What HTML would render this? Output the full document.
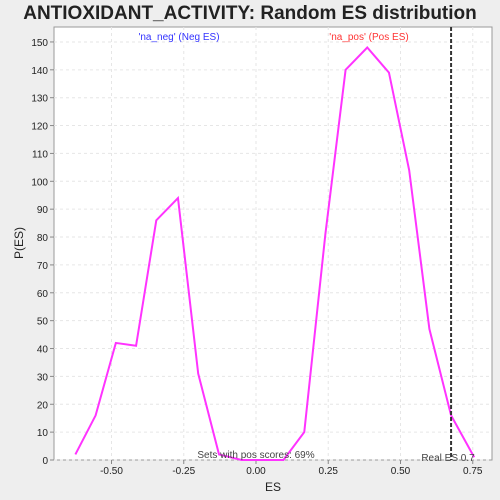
<!DOCTYPE html>
<html><head><meta charset="utf-8"><style>
body{margin:0;background:#eeeeee;}
svg{display:block;font-family:"Liberation Sans","DejaVu Sans",sans-serif;}
</style></head><body>
<svg id="c" width="500" height="500">
<rect x="0" y="0" width="500" height="500" fill="#eeeeee"/>
<text x="250" y="19" text-anchor="middle" font-size="19" font-weight="bold" fill="#222">ANTIOXIDANT_ACTIVITY: Random ES distribution</text>
<rect x="54" y="27" width="438" height="433" fill="#fff" stroke="#999"/>
<g id="grid"></g><g id="axes"></g><g id="series"></g>
<text x="179" y="40" text-anchor="middle" font-size="10" fill="#3333ff">'na_neg' (Neg ES)</text>
<text x="369" y="40" text-anchor="middle" font-size="10" fill="#ff3333">'na_pos' (Pos ES)</text>
<text x="256" y="458" text-anchor="middle" font-size="10" fill="#444">Sets with pos scores: 69%</text>
<text x="448" y="461" text-anchor="middle" font-size="10" fill="#444">Real ES 0.7</text>
<text x="273" y="491" text-anchor="middle" font-size="12" fill="#222">ES</text>
<text x="23" y="243" text-anchor="middle" font-size="12" fill="#222" transform="rotate(-90 23 243)">P(ES)</text>
</svg>
<script>
const esValues=[-0.625,-0.555,-0.485,-0.415,-0.345,-0.27,-0.2,-0.128,-0.05,0.02,0.095,0.167,0.24,0.31,0.385,0.46,0.53,0.6,0.675,0.755];
const probValues=[2,16,42,41,86,94,31,2,0,0,0,10,81,140,148,139,104,47,16,1];
const xTicks=[-0.5,-0.25,0,0.25,0.5,0.75];
const xTickLabels=["-0.50","-0.25","0.00","0.25","0.50","0.75"];
const yTicks=[0,10,20,30,40,50,60,70,80,90,100,110,120,130,140,150];
const realES=0.675;
const NS="http://www.w3.org/2000/svg";
const X=v=>256+v*289, Y=v=>460-v*2.787;
function mk(t,a,p){const e=document.createElementNS(NS,t);for(const k in a)e.setAttribute(k,a[k]);p.appendChild(e);return e;}
const g=document.getElementById('grid'),ax=document.getElementById('axes'),s=document.getElementById('series');
xTicks.forEach((v,i)=>{
 const l=mk('line',{x1:X(v),x2:X(v),y1:27,y2:460,stroke:'#e6e6e6','stroke-dasharray':'3,3'},g);
 
 mk('line',{x1:X(v),x2:X(v),y1:460,y2:464,stroke:'#888'},ax);
 const t=mk('text',{x:X(v),y:474,'text-anchor':'middle','font-size':'10',fill:'#222'},ax);t.textContent=xTickLabels[i];
 
});
yTicks.forEach(v=>{
 const l=mk('line',{x1:54,x2:492,y1:Y(v),y2:Y(v),stroke:'#e6e6e6','stroke-dasharray':'3,3'},g);
 
 mk('line',{x1:50,x2:54,y1:Y(v),y2:Y(v),stroke:'#888'},ax);
 const t=mk('text',{x:48,y:Y(v)+4,'text-anchor':'end','font-size':'10',fill:'#222'},ax);t.textContent=v;
 
});
const line=mk('polyline',{points:esValues.map((v,i)=>X(v)+','+Y(probValues[i])).join(' '),fill:'none',stroke:'#ff33ff','stroke-width':2},s);

const r=mk('line',{x1:X(realES),x2:X(realES),y1:27,y2:460,stroke:'#333','stroke-width':2,'stroke-dasharray':'4,2'},s);

</script>
</body></html>
